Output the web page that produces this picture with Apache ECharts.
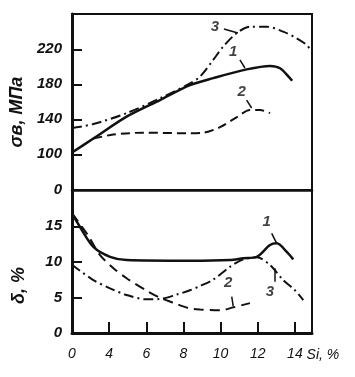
<!DOCTYPE html>
<html><head><meta charset="utf-8">
<script src="https://cdn.jsdelivr.net/npm/echarts@6/dist/echarts.min.js"></script>
<style>html,body{margin:0;padding:0;background:#fff}#c{width:355px;height:377px}</style>
</head><body><div id="c"></div>
<script>
// x positions of ticks (axis units) and the printed tick labels
const xTickPos = [0, 2, 4, 6, 8, 10, 12];
const xTickLabels = ['0', '4', '6', '8', '10', '12', '14'];
const xMax = 12.92;
// top panel: tensile strength, MPa (broken axis, bottom labelled 0)
const yTopMin = 59.2, yTopMax = 260.3;
const yTopTicks = [100, 140, 180, 220];
const sigma1 = [[0,102],[1.15,118],[2.94,143],[4.74,162],[6.35,179],[7.6,187],[9.4,197],[10.66,201],[11.2,198.3],[11.73,187],[11.85,184]];
const sigma2 = [[1.15,118],[2.22,122.5],[3.84,124.7],[6.35,124],[7.05,124.5],[7.97,131],[8.88,142.6],[9.58,150.6],[10.12,150.6],[10.66,147]];
const sigma3 = [[0,130],[1.15,134.6],[2.94,147],[4.74,164],[6.35,181],[6.89,188.7],[7.6,207.8],[8.14,223],[8.86,238.3],[9.58,245.8],[10.48,245.8],[11.37,240.1],[12.09,232.6],[12.63,224.9],[12.92,217]];
// bottom panel: elongation, %
const yBotMax = 20.1;
const yBotTicks = [5, 10, 15];
const yBotLabels = [0, 5, 10, 15];
const delta1 = [[0,16.8],[0.43,14.9],[1.15,12.1],[2.05,10.7],[2.94,10.25],[6.35,10.15],[8.5,10.25],[9.22,10.5],[9.94,10.7],[10.66,12.36],[11.02,12.6],[11.56,11.4],[11.91,10.35]];
const delta2 = [[0,16.8],[0.79,14],[1.51,10.96],[2.23,9.1],[2.94,7.7],[4.02,5.94],[4.74,4.96],[5.45,4.26],[6.26,3.5],[6.89,3.3],[7.97,3.2],[8.68,3.6],[9.58,4.2]];
const delta3 = [[0,9.6],[1.15,7.44],[2.05,6.28],[2.94,5.34],[4.02,4.73],[4.74,4.78],[5.64,5.4],[6.35,6.0],[6.89,6.6],[7.6,7.5],[8.5,9.3],[9.22,10.35],[9.94,10.65],[10.66,9.55],[11.37,7.44],[12,6.0],[12.45,4.63]];
// curve number labels and their leader lines (data units)
const topLabels = [['3',7.7,245.5],['1',8.67,216.9],['2',9.13,171.5]];
const topLeaders = [[[8.18,243.2],[8.93,238.6]],[[9.04,207.8],[9.31,198.6]],[[9.4,162],[9.67,152.9]]];
const botLabels = [['1',10.48,15.6],['3',10.66,5.8],['2',8.41,7.0]];
const botLeaders = [[[10.75,14.0],[11.02,12.6]],[[10.93,7.2],[10.93,9.1]],[[8.6,5.1],[8.68,3.7]]];

const ink = '#111';
const fontF = '"Liberation Sans", Arial, sans-serif';
const boldIt = {fontFamily: fontF, fontStyle: 'italic', fontWeight: 'bold', fontSize: 15, color: ink};

function curve(data, xi, yi, type, w) {
  return {type: 'line', xAxisIndex: xi, yAxisIndex: yi, data: data, showSymbol: false, smooth: 0.3,
    lineStyle: {color: ink, width: w, type: type}, silent: true, z: 3};
}
function annot(labels, leaders, idx) {
  return {type: 'scatter', xAxisIndex: idx, yAxisIndex: idx, symbolSize: 0, silent: true, z: 4,
    data: labels.map(l => ({name: l[0], value: [l[1], l[2]]})),
    label: {show: true, position: 'inside', formatter: '{b}', ...boldIt},
    markLine: {silent: true, symbol: ['none', 'none'], label: {show: false},
      lineStyle: {color: ink, width: 1.5, type: 'solid'},
      data: leaders.map(s => [{coord: s[0]}, {coord: s[1]}])}};
}

const chart = echarts.init(document.getElementById('c'), null, {renderer: 'canvas'});
chart.setOption({
  animation: false,
  backgroundColor: '#fff',
  grid: [
    {left: 72, right: 43, top: 14, height: 176, show: true, borderColor: ink, borderWidth: 2},
    {left: 72, right: 43, top: 190, height: 143, show: true, borderColor: ink, borderWidth: 2}
  ],
  xAxis: [
    {gridIndex: 0, type: 'value', min: 0, max: xMax,
      axisLine: {show: true, onZero: false, lineStyle: {color: ink, width: 2.5}},
      axisTick: {show: false}, axisLabel: {show: false}, splitLine: {show: false}},
    {gridIndex: 1, type: 'value', min: 0, max: xMax,
      axisLine: {show: true, onZero: false, lineStyle: {color: ink, width: 3}},
      axisTick: {show: true, inside: true, length: 11, lineStyle: {color: ink, width: 2}, customValues: xTickPos.slice(1)},
      axisLabel: {customValues: xTickPos, formatter: v => xTickLabels[xTickPos.indexOf(v)], margin: 14,
        fontFamily: fontF, fontStyle: 'italic', fontSize: 14, color: ink},
      splitLine: {show: false},
      name: 'Si, %', nameLocation: 'end', nameGap: -9,
      nameTextStyle: {fontFamily: fontF, fontStyle: 'italic', fontSize: 14, color: ink, verticalAlign: 'top', padding: [15, 0, 0, 0]}}
  ],
  yAxis: [
    {gridIndex: 0, type: 'value', min: yTopMin, max: yTopMax,
      axisLine: {show: true, lineStyle: {color: ink, width: 3}},
      axisTick: {show: true, inside: true, length: 10, lineStyle: {color: ink, width: 2}, customValues: yTopTicks},
      axisLabel: {customValues: [yTopMin].concat(yTopTicks), formatter: v => (v === yTopMin ? '0' : String(v)), margin: 10, ...boldIt},
      splitLine: {show: false},
      name: 'σв, МПа', nameLocation: 'middle', nameRotate: 90, nameGap: 39,
      nameTextStyle: {...boldIt, fontSize: 18, padding: [0, 20, 0, 0]}},
    {gridIndex: 1, type: 'value', min: 0, max: yBotMax,
      axisLine: {show: true, lineStyle: {color: ink, width: 3}},
      axisTick: {show: true, inside: true, length: 10, lineStyle: {color: ink, width: 2}, customValues: yBotTicks},
      axisLabel: {customValues: yBotLabels, margin: 10, ...boldIt},
      splitLine: {show: false},
      name: 'δ, %', nameLocation: 'middle', nameRotate: 90, nameGap: 44,
      nameTextStyle: {...boldIt, fontSize: 18, padding: [0, 48, 0, 0]}}
  ],
  series: [
    curve(sigma1, 0, 0, 'solid', 2.5),
    curve(sigma2, 0, 0, [9, 5], 2),
    curve(sigma3, 0, 0, [10, 4, 2, 4], 2),
    curve(delta1, 1, 1, 'solid', 2.5),
    curve(delta2, 1, 1, [10, 6], 2),
    curve(delta3, 1, 1, [10, 4, 2, 4], 2),
    annot(topLabels, topLeaders, 0),
    annot(botLabels, botLeaders, 1)
  ]
});
</script></body></html>
